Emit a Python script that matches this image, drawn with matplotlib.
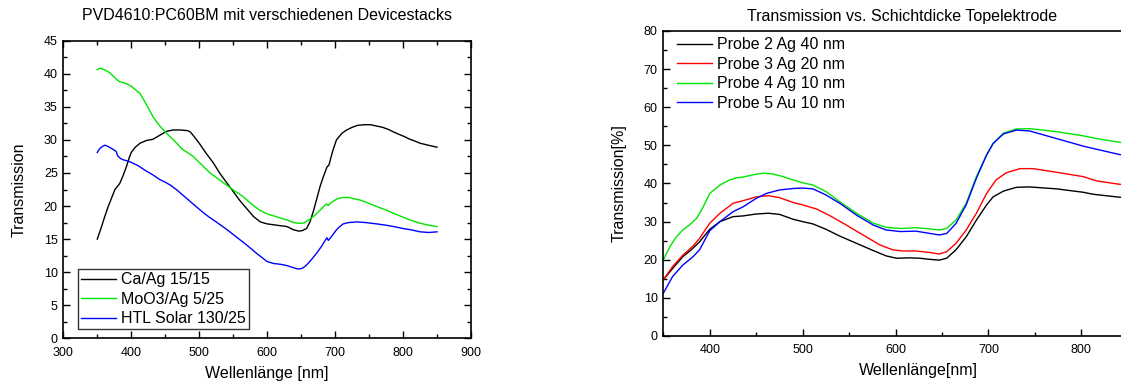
import matplotlib
matplotlib.use("Agg")
import matplotlib.pyplot as plt
from matplotlib.ticker import MultipleLocator

plt.rcParams['font.family'] = ['Liberation Sans', 'DejaVu Sans']

# ---------------- Left chart data ----------------
ca_x = [350, 356, 361, 366, 371, 376, 383, 388, 393, 397, 400, 406, 413, 422, 432, 442, 452, 462, 472, 483, 487,
        491, 500, 510, 521, 530, 540, 550, 560, 570, 580, 590, 600, 614, 629, 639, 647, 652, 658, 663, 668,
        673, 678, 683, 688, 691, 693, 697, 702, 710, 717, 725, 733, 744, 752, 761, 770, 778, 786, 795, 802,
        810, 818, 825, 833, 841, 850]
ca_y = [15.0, 16.8, 18.4, 19.9, 21.2, 22.5, 23.4, 24.6, 26.0, 27.3, 28.1, 28.9, 29.5, 29.9, 30.1, 30.7, 31.3, 31.5, 31.5, 31.4, 31.2,
        30.7, 29.5, 28.0, 26.5, 25.0, 23.6, 22.2, 20.8, 19.6, 18.4, 17.6, 17.3, 17.1, 16.9, 16.4, 16.2, 16.3, 16.6, 17.6, 19.2,
        21.1, 23.0, 24.5, 25.9, 26.2, 27.0, 28.5, 30.0, 31.0, 31.5, 31.9, 32.2, 32.3, 32.3, 32.1, 31.9, 31.6, 31.2, 30.8, 30.5,
        30.1, 29.8, 29.5, 29.3, 29.1, 28.9]

moo_x = [350, 353, 356, 361, 366, 369, 374, 379, 383, 390, 395, 400, 406, 413, 422, 432, 442, 452, 462, 467, 475, 484,
         491, 500, 508, 516, 528, 540, 552, 565, 577, 590, 600, 610, 619, 629, 639, 646, 653, 660, 668, 675, 683, 687,
         690, 694, 700, 706, 712, 720, 728, 737, 750, 762, 775, 786, 798, 810, 825, 838, 850]
moo_y = [40.6, 40.8, 40.8, 40.6, 40.3, 40.1, 39.6, 39.1, 38.8, 38.6, 38.4, 38.1, 37.6, 37.0, 35.4, 33.5, 32.1, 31.0, 30.0, 29.5, 28.6, 28.0,
         27.5, 26.6, 25.8, 25.0, 24.1, 23.2, 22.3, 21.4, 20.3, 19.3, 18.8, 18.5, 18.2, 17.9, 17.5, 17.4, 17.4, 17.8, 18.4, 19.1, 19.9, 20.3,
         20.1, 20.5, 20.9, 21.2, 21.3, 21.3, 21.1, 20.9, 20.4, 19.9, 19.4, 18.9, 18.4, 17.9, 17.4, 17.1, 16.9]

htl_x = [350, 353, 356, 361, 366, 371, 376, 378, 380, 384, 388, 395, 400, 410, 422, 432, 442, 450, 457, 465, 472, 481,
         490, 498, 506, 515, 525, 540, 555, 570, 585, 600, 610, 619, 629, 638, 644, 648, 652, 656, 660, 666, 673, 680,
         686, 688, 690, 694, 702, 707, 712, 720, 732, 745, 761, 775, 786, 800, 812, 825, 838, 850]
htl_y = [28.1, 28.6, 28.9, 29.2, 29.0, 28.7, 28.4, 28.2, 27.6, 27.2, 27.0, 26.8, 26.6, 26.1, 25.3, 24.7, 24.0, 23.6, 23.2, 22.6, 22.0, 21.2,
         20.4, 19.7, 19.0, 18.3, 17.6, 16.5, 15.3, 14.1, 12.8, 11.6, 11.3, 11.2, 11.0, 10.7, 10.5, 10.5, 10.6, 10.9, 11.3, 12.0, 12.9, 13.9,
         14.9, 15.2, 14.8, 15.3, 16.4, 16.9, 17.3, 17.5, 17.6, 17.5, 17.3, 17.1, 16.9, 16.6, 16.4, 16.1, 16.0, 16.1]

left_labels = ["Ca/Ag 15/15", "MoO3/Ag 5/25", "HTL Solar 130/25"]

# ---------------- Right chart data ----------------
p2_x = [350, 360, 371, 380, 389, 400, 411, 425, 436, 450, 463, 475, 482, 490, 500, 511, 525, 540, 558, 576, 590, 601,
        615, 626, 637, 647, 655, 665, 676, 687, 698, 705, 716, 730, 744, 773, 802, 812, 841, 850]
p2_y = [14.7, 17.7, 20.8, 22.6, 24.7, 28.0, 30.0, 31.3, 31.5, 32.0, 32.2, 31.9, 31.3, 30.6, 30.0, 29.4, 28.0, 26.2, 24.3, 22.4, 21.0, 20.4,
        20.5, 20.4, 20.1, 19.9, 20.4, 22.6, 26.0, 30.4, 34.4, 36.5, 38.0, 39.0, 39.1, 38.6, 37.7, 37.2, 36.4, 36.2]

p3_x = [350, 360, 371, 382, 389, 400, 411, 425, 436, 450, 463, 475, 490, 500, 515, 529, 547, 565, 583, 597, 608,
        622, 637, 647, 655, 665, 676, 687, 698, 708, 719, 734, 748, 777, 802, 816, 841, 850]
p3_y = [14.7, 18.2, 21.2, 23.6, 25.6, 29.6, 32.2, 34.8, 35.5, 36.5, 36.8, 36.3, 35.0, 34.4, 33.3, 31.6, 29.1, 26.5, 23.9, 22.6, 22.3,
        22.3, 21.9, 21.5, 22.1, 24.3, 27.8, 32.2, 37.4, 40.9, 42.8, 43.9, 43.9, 42.8, 41.8, 40.7, 39.8, 39.6]

p4_x = [350, 357, 364, 371, 378, 386, 393, 400, 411, 421, 429, 436, 447, 457, 468, 479, 490, 500, 511, 525, 540,
        558, 576, 590, 605, 622, 637, 647, 655, 665, 676, 687, 698, 705, 716, 730, 744, 773, 802, 816, 841, 850]
p4_y = [19.9, 23.4, 26.0, 27.8, 29.1, 30.9, 33.9, 37.4, 39.6, 40.9, 41.5, 41.7, 42.3, 42.7, 42.5, 41.8, 40.9, 40.2, 39.6, 37.9, 35.2,
        32.2, 29.6, 28.5, 28.2, 28.4, 28.1, 27.8, 28.2, 30.4, 34.8, 41.8, 47.5, 50.5, 53.2, 54.3, 54.4, 53.6, 52.5, 51.8, 50.8, 50.6]

p5_x = [350, 360, 371, 382, 389, 400, 411, 425, 436, 450, 461, 475, 490, 500, 511, 525, 540, 558, 576, 590, 605,
        622, 637, 647, 655, 665, 676, 687, 698, 705, 716, 730, 744, 773, 802, 816, 841, 850]
p5_y = [11.2, 15.6, 18.6, 20.8, 22.6, 27.6, 30.0, 32.6, 33.9, 36.1, 37.4, 38.3, 38.7, 38.8, 38.6, 37.0, 34.8, 31.7, 29.1, 27.8, 27.4,
        27.5, 26.9, 26.5, 26.9, 29.5, 34.4, 41.4, 47.5, 50.5, 53.0, 54.0, 53.8, 51.8, 49.8, 49.0, 47.6, 47.3]

right_labels = ["Probe 2 Ag 40 nm", "Probe 3 Ag 20 nm", "Probe 4 Ag 10 nm", "Probe 5 Au 10 nm"]

W, H = 1121, 385
fig = plt.figure(figsize=(W / 100, H / 100), dpi=100)


def px_axes(x0, y0, x1, y1):
    return fig.add_axes([x0 / W, 1 - y1 / H, (x1 - x0) / W, (y1 - y0) / H])


GREEN = '#00e600'
FS = 11.5
TFS = 9

# ---------------- Left axes ----------------
ax1 = px_axes(63.3, 40.7, 471, 338.3)
ax1.plot(ca_x, ca_y, color='black', lw=1, label=left_labels[0])
ax1.plot(moo_x, moo_y, color=GREEN, lw=1, label=left_labels[1])
ax1.plot(htl_x, htl_y, color='#0000ff', lw=1, label=left_labels[2])
ax1.set_xlim(300, 900)
ax1.set_ylim(0, 45)
ax1.xaxis.set_major_locator(MultipleLocator(100))
ax1.xaxis.set_minor_locator(MultipleLocator(50))
ax1.yaxis.set_major_locator(MultipleLocator(5))
ax1.yaxis.set_minor_locator(MultipleLocator(2.5))
ax1.tick_params(which='both', direction='in', top=True, right=True, labelsize=TFS, width=1)
ax1.tick_params(which='major', length=5)
ax1.tick_params(which='minor', length=3)
ax1.tick_params(axis='x', which='major', pad=6.5)
ax1.tick_params(axis='y', which='major', pad=4)
for s in ax1.spines.values():
    s.set_linewidth(1.2)
ax1.set_xlabel("Wellenlänge [nm]", fontsize=FS, labelpad=5)
ax1.set_ylabel("Transmission", fontsize=FS, labelpad=12)
leg1 = ax1.legend(loc='lower left', bbox_to_anchor=(0.035, 0.03), fontsize=FS, frameon=True,
                  fancybox=False, edgecolor='black', handlelength=2.2, handletextpad=0.3,
                  labelspacing=0.28, borderpad=0.2, borderaxespad=0)
leg1.get_frame().set_linewidth(1)
fig.text(267 / W, 1 - 16 / H, "PVD4610:PC60BM mit verschiedenen Devicestacks", fontsize=FS,
         ha='center', va='center')

# ---------------- Right axes ----------------
ax2 = px_axes(663.3, 31, 1174.3, 336)
ax2.plot(p2_x, p2_y, color='black', lw=1, label=right_labels[0])
ax2.plot(p3_x, p3_y, color='#ff0000', lw=1, label=right_labels[1])
ax2.plot(p4_x, p4_y, color=GREEN, lw=1, label=right_labels[2])
ax2.plot(p5_x, p5_y, color='#0000ff', lw=1, label=right_labels[3])
ax2.set_xlim(350, 900)
ax2.set_ylim(0, 80)
ax2.set_xticks([400, 500, 600, 700, 800])
ax2.xaxis.set_minor_locator(MultipleLocator(50))
ax2.yaxis.set_major_locator(MultipleLocator(10))
ax2.yaxis.set_minor_locator(MultipleLocator(5))
ax2.tick_params(which='both', direction='in', top=False, right=False, labelsize=TFS, width=1)
ax2.tick_params(which='major', length=5)
ax2.tick_params(which='minor', length=3)
ax2.tick_params(axis='x', which='major', pad=6)
ax2.tick_params(axis='y', which='major', pad=4)
for s in ax2.spines.values():
    s.set_linewidth(1.2)
ax2.set_xlabel("Wellenlänge[nm]", fontsize=FS, labelpad=5)
ax2.set_ylabel("Transmission[%]", fontsize=FS, labelpad=12)
ax2.legend(loc='upper left', bbox_to_anchor=(0.02, 0.99), fontsize=FS, frameon=False,
           handlelength=2.2, handletextpad=0.3, labelspacing=0.28, borderpad=0.2, borderaxespad=0)
fig.text(902 / W, 1 - 16.7 / H, "Transmission vs. Schichtdicke Topelektrode", fontsize=FS,
         ha='center', va='center')

fig.savefig("out.png", dpi=100)
